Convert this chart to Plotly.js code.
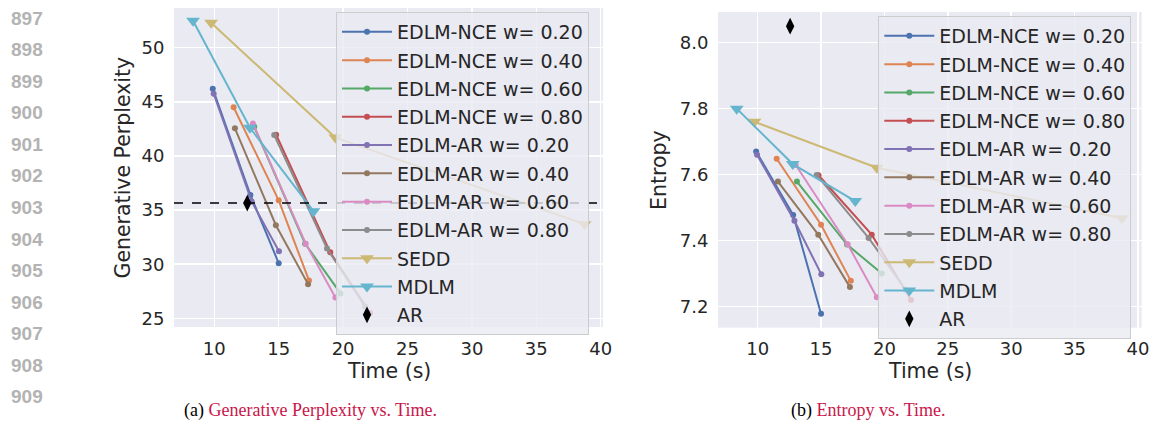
<!DOCTYPE html>
<html>
<head>
<meta charset="utf-8">
<script src="https://cdn.plot.ly/plotly-3.0.1.min.js"></script>
<style>html,body{margin:0;padding:0;background:#fff;}#chart{width:1152px;height:421px;}</style>
</head>
<body>
<div id="chart"></div>
<script>
// ---- data ----
const seriesNames = ["EDLM-NCE w= 0.20","EDLM-NCE w= 0.40","EDLM-NCE w= 0.60","EDLM-NCE w= 0.80",
                     "EDLM-AR w= 0.20","EDLM-AR w= 0.40","EDLM-AR w= 0.60","EDLM-AR w= 0.80"];
const nce020_time = [9.88, 12.8, 15.0];
const nce040_time = [11.5, 15.0, 17.35];
const nce060_time = [13.1, 17.05, 19.8];
const nce080_time = [14.8, 19.0, 22.1];
const ar020_time  = [9.95, 12.9, 15.02];
const ar040_time  = [11.6, 14.78, 17.28];
const ar060_time  = [13.0, 17.1, 19.4];
const ar080_time  = [14.65, 18.75, 21.7];

const nce020_ppl = [46.2, 36.4, 30.1];
const nce040_ppl = [44.5, 35.9, 28.5];
const nce060_ppl = [42.7, 31.9, 27.3];
const nce080_ppl = [41.96, 31.1, 25.5];
const ar020_ppl  = [45.75, 35.8, 31.2];
const ar040_ppl  = [42.55, 33.6, 28.16];
const ar060_ppl  = [43.0, 31.9, 26.93];
const ar080_ppl  = [41.93, 31.46, 26.1];

const nce020_ent = [7.670, 7.478, 7.178];
const nce040_ent = [7.648, 7.448, 7.278];
const nce060_ent = [7.579, 7.388, 7.300];
const nce080_ent = [7.598, 7.418, 7.220];
const ar020_ent  = [7.660, 7.460, 7.298];
const ar040_ent  = [7.579, 7.418, 7.259];
const ar060_ent  = [7.629, 7.389, 7.228];
const ar080_ent  = [7.599, 7.408, 7.250];

const sedd_time = [9.75, 19.4, 38.75];
const sedd_ppl  = [52.3, 41.7, 33.7];
const sedd_ent  = [7.76, 7.621, 7.468];
const mdlm_time = [8.35, 12.77, 17.7];
const mdlm_ppl  = [52.5, 42.6, 34.9];
const mdlm_ent  = [7.80, 7.632, 7.52];
const ar_time = [12.56];
const ar_ppl  = [35.65];
const ar_ent  = [8.05];

const xTicks = [10, 15, 20, 25, 30, 35, 40];
const pplTicks = [25, 30, 35, 40, 45, 50];
const entTicks = [7.2, 7.4, 7.6, 7.8, 8.0];
const lineNumbers = ["897","898","899","900","901","902","903","904","905","906","907","908","909"];

// ---- styling ----
const colors = ["#4c72b0","#dd8452","#55a868","#c44e52","#8172b3","#937860","#da8bc3","#8c8c8c"];
const seddColor = "#ccb974", mdlmColor = "#64b5cd";
const FONT = "DejaVu Sans";
const edlmTimes = [nce020_time,nce040_time,nce060_time,nce080_time,ar020_time,ar040_time,ar060_time,ar080_time];
const edlmPpl = [nce020_ppl,nce040_ppl,nce060_ppl,nce080_ppl,ar020_ppl,ar040_ppl,ar060_ppl,ar080_ppl];
const edlmEnt = [nce020_ent,nce040_ent,nce060_ent,nce080_ent,ar020_ent,ar040_ent,ar060_ent,ar080_ent];

const traces = [];
function addAll(xa, ya, yvals, seddY, mdlmY, arY, legendId, suffix) {
  seriesNames.forEach((n, i) => {
    traces.push({type:"scatter", mode:"lines+markers", name:n, x:edlmTimes[i], y:yvals[i],
      xaxis:xa, yaxis:ya, legend:legendId, legendgroup:n+suffix,
      line:{color:colors[i], width:2}, marker:{color:colors[i], size:6, symbol:"circle"}});
  });
  traces.push({type:"scatter", mode:"lines+markers", name:"SEDD", x:sedd_time, y:seddY,
    xaxis:xa, yaxis:ya, legend:legendId, legendgroup:"SEDD"+suffix,
    line:{color:seddColor, width:2}, marker:{color:seddColor, size:12, symbol:"triangle-down"}});
  traces.push({type:"scatter", mode:"lines+markers", name:"MDLM", x:mdlm_time, y:mdlmY,
    xaxis:xa, yaxis:ya, legend:legendId, legendgroup:"MDLM"+suffix,
    line:{color:mdlmColor, width:2}, marker:{color:mdlmColor, size:12, symbol:"triangle-down"}});
  traces.push({type:"scatter", mode:"markers", name:"AR", x:ar_time, y:arY,
    xaxis:xa, yaxis:ya, legend:legendId, legendgroup:"AR"+suffix,
    marker:{color:"#000000", size:12, symbol:"diamond-tall"}});
}
addAll("x","y",edlmPpl,sedd_ppl,mdlm_ppl,ar_ppl,"legend","a");
addAll("x2","y2",edlmEnt,sedd_ent,mdlm_ent,ar_ent,"legend2","b");

const axisCommon = {showline:false, zeroline:false, gridcolor:"#ffffff", gridwidth:1.5,
  ticks:"outside", ticklen:5, tickcolor:"rgba(0,0,0,0)", automargin:false,
  tickfont:{family:FONT, size:18, color:"#262626"}};

const H = 421, W = 1152;
const py = v => 1 - v / H;

const annotations = [];
lineNumbers.forEach((t, i) => {
  annotations.push({text:t, xref:"paper", yref:"paper", x:27/W, y:py(18.3 + i*31.53),
    xanchor:"center", yanchor:"middle", showarrow:false,
    font:{family:"Liberation Sans", size:19, color:"#b3b3b3", weight:"bold"}});
});
const titleFont = {family:FONT, size:20.5, color:"#262626"};
annotations.push({text:"Generative Perplexity", xref:"paper", yref:"paper", x:122/W, y:py(167.5),
  textangle:-90, xanchor:"center", yanchor:"middle", showarrow:false, font:titleFont});
annotations.push({text:"Time (s)", xref:"paper", yref:"paper", x:388.5/W, y:py(371),
  xanchor:"center", yanchor:"middle", showarrow:false, font:titleFont});
annotations.push({text:"Entropy", xref:"paper", yref:"paper", x:659/W, y:py(170),
  textangle:-90, xanchor:"center", yanchor:"middle", showarrow:false, font:titleFont});
annotations.push({text:"Time (s)", xref:"paper", yref:"paper", x:929.8/W, y:py(371),
  xanchor:"center", yanchor:"middle", showarrow:false, font:titleFont});
const capFont = {family:"Liberation Serif", size:18, color:"#000000"};
annotations.push({text:'(a) <span style="color:#c8174a">Generative Perplexity vs. Time.</span>',
  xref:"paper", yref:"paper", x:310/W, y:py(410), xanchor:"center", yanchor:"middle", showarrow:false, font:capFont});
annotations.push({text:'(b) <span style="color:#c8174a">Entropy vs. Time.</span>',
  xref:"paper", yref:"paper", x:868/W, y:py(410), xanchor:"center", yanchor:"middle", showarrow:false, font:capFont});

const legendCommon = {bgcolor:"rgba(234,234,242,0.8)", bordercolor:"#cccccc", borderwidth:1,
  font:{family:FONT, size:19, color:"#262626"}, itemwidth:50, tracegroupgap:0.6,
  xanchor:"left", yanchor:"top", itemclick:false};

const layout = {
  width:W, height:H, margin:{l:0, r:0, t:0, b:0},
  paper_bgcolor:"#ffffff", plot_bgcolor:"#eaeaf2",
  showlegend:true,
  xaxis:Object.assign({}, axisCommon, {domain:[174/W, 603/W], range:[6.87, 40.18], tickvals:xTicks, anchor:"y"}),
  yaxis:Object.assign({}, axisCommon, {domain:[py(327), py(8)], range:[24.2, 53.67], tickvals:pplTicks, anchor:"x"}),
  xaxis2:Object.assign({}, axisCommon, {domain:[718/W, 1141.7/W], range:[6.87, 40.3], tickvals:xTicks, anchor:"y2"}),
  yaxis2:Object.assign({}, axisCommon, {domain:[py(327.7), py(12)], range:[7.136, 8.093], tickvals:entTicks, tickformat:".1f", anchor:"x2"}),
  legend:Object.assign({}, legendCommon, {x:336/W, y:py(12)}),
  legend2:Object.assign({}, legendCommon, {x:878.3/W, y:py(16)}),
  shapes:[{type:"line", xref:"x domain", yref:"y", x0:0, x1:1, y0:ar_ppl[0], y1:ar_ppl[0],
    line:{color:"#000000", width:1.5, dash:"dash"}, layer:"above"}],
  annotations:annotations
};

Plotly.newPlot("chart", traces, layout, {displayModeBar:false, staticPlot:true});
</script>
</body>
</html>
